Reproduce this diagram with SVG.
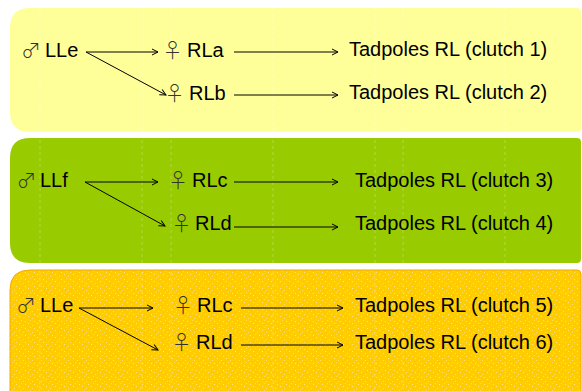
<svg xmlns="http://www.w3.org/2000/svg" width="582" height="391" viewBox="0 0 582 391">
<style>
.t{font-family:"Liberation Sans",Arial,sans-serif;font-size:20px;fill:#000}
.s{font-family:"Noto Sans CJK JP","DejaVu Sans",sans-serif;font-size:20px;font-weight:300;fill:#333;text-anchor:middle}
.c{stroke:#000;stroke-width:1;fill:none;marker-end:url(#ah)}
.g{stroke:#fff;stroke-opacity:0.35;stroke-width:0.7;stroke-dasharray:3 3}
</style>
<defs>
<marker id="ah" viewBox="0 0 8 8" refX="7" refY="4" markerWidth="8" markerHeight="8" markerUnits="userSpaceOnUse" orient="auto">
<path d="M1,1 L7,4 L1,7" fill="none" stroke="#000" stroke-width="1"/>
</marker>
<pattern id="tex" width="9" height="7" patternUnits="userSpaceOnUse">
<rect width="9" height="7" fill="#FFCC00"/>
<rect x="1" y="1" width="1" height="1" fill="#FFE680"/>
<rect x="5" y="3" width="1" height="1" fill="#FFE066"/>
<rect x="3" y="5" width="1" height="1" fill="#FFDD55"/>
<rect x="7" y="6" width="1" height="1" fill="#FFE680"/>
</pattern>
</defs>
<rect width="582" height="391" fill="#fff"/>
<g id="panel1">
<path d="M30,8 H577 Q581,8 581,12 V128 Q581,132 577,132 H30 Q10,132 10,112 V28 Q10,8 30,8 Z" fill="#FFFF99"/>
</g>
<g id="panel2">
<path d="M30,138 H577 Q581,138 581,142 V259 Q581,263 577,263 H30 Q10,263 10,243 V158 Q10,138 30,138 Z" fill="#99CC00"/>
</g>
<g id="panel3">
<path d="M30,270 H577 Q581,270 581,274 V400 H10 V290 Q10,270 30,270 Z" fill="url(#tex)" stroke="#F2A900" stroke-width="1"/>
</g>
<g id="guides">
<line class="g" x1="40" y1="8" x2="40" y2="391"/>
<line class="g" x1="142" y1="8" x2="142" y2="391"/>
<line class="g" x1="171" y1="8" x2="171" y2="391"/>
<line class="g" x1="273" y1="8" x2="273" y2="391"/>
<line class="g" x1="375" y1="8" x2="375" y2="391"/>
<line class="g" x1="403" y1="8" x2="403" y2="391"/>
<line class="g" x1="505" y1="8" x2="505" y2="391"/>
</g>
<g id="connectors">
<line class="c" x1="86" y1="52" x2="158" y2="52"/>
<line class="c" x1="86" y1="52" x2="166" y2="95"/>
<line class="c" x1="234" y1="52" x2="338" y2="52"/>
<line class="c" x1="234" y1="95" x2="338" y2="95"/>
<line class="c" x1="85" y1="182" x2="158" y2="182"/>
<line class="c" x1="85" y1="182" x2="165" y2="226"/>
<line class="c" x1="234" y1="182" x2="338" y2="182"/>
<line class="c" x1="234" y1="227" x2="338" y2="227"/>
<line class="c" x1="79" y1="308" x2="153" y2="308"/>
<line class="c" x1="79" y1="308" x2="158" y2="350"/>
<line class="c" x1="241" y1="308" x2="343" y2="308"/>
<line class="c" x1="241" y1="345" x2="343" y2="345"/>
</g>
<g id="LLe1"><text class="s" x="31" y="58">♂</text><text class="t" x="45" y="57">LLe</text></g>
<g id="RLa"><text class="s" x="172.5" y="58">♀</text><text class="t" x="187" y="57">RLa</text></g>
<g id="RLb"><text class="s" x="174.5" y="101">♀</text><text class="t" x="189" y="100">RLb</text></g>
<g id="clutch1"><text class="t" x="349" y="56">Tadpoles RL (clutch 1)</text></g>
<g id="clutch2"><text class="t" x="349" y="99">Tadpoles RL (clutch 2)</text></g>
<g id="LLf"><text class="s" x="26.5" y="188">♂</text><text class="t" x="40" y="187">LLf</text></g>
<g id="RLc1"><text class="s" x="178" y="188">♀</text><text class="t" x="192" y="187">RLc</text></g>
<g id="RLd1"><text class="s" x="181.5" y="231">♀</text><text class="t" x="195" y="230">RLd</text></g>
<g id="clutch3"><text class="t" x="355" y="187">Tadpoles RL (clutch 3)</text></g>
<g id="clutch4"><text class="t" x="355" y="230">Tadpoles RL (clutch 4)</text></g>
<g id="LLe2"><text class="s" x="26" y="313">♂</text><text class="t" x="40" y="312">LLe</text></g>
<g id="RLc2"><text class="s" x="183" y="313">♀</text><text class="t" x="197" y="312">RLc</text></g>
<g id="RLd2"><text class="s" x="181.5" y="350">♀</text><text class="t" x="196" y="349">RLd</text></g>
<g id="clutch5"><text class="t" x="355" y="312">Tadpoles RL (clutch 5)</text></g>
<g id="clutch6"><text class="t" x="355" y="349">Tadpoles RL (clutch 6)</text></g>
</svg>
